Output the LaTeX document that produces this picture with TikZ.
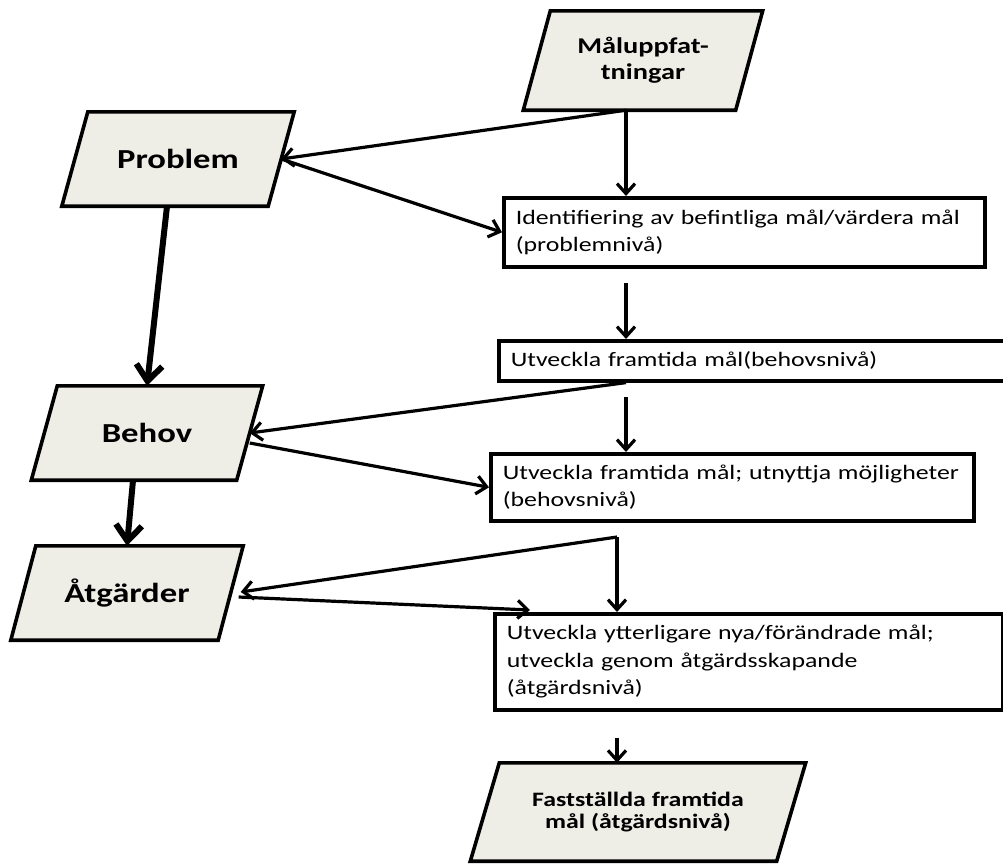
\documentclass[tikz,border=0pt]{standalone}
\usepackage{fontspec}
\setmainfont{Carlito}[FakeStretch=1.26]
\usetikzlibrary{positioning, backgrounds, arrows.meta}
\definecolor{boxfill}{RGB}{238,237,230}

\begin{document}
\begin{tikzpicture}
		[
		x=1pt, y=-1pt,
		lvl/.style ={rectangle, inner sep=0pt, align=center, font=\fontsize{27.5}{33}\selectfont\bfseries},
		lvlframe/.style ={draw=black, line width=3.6pt, line join=miter, fill=boxfill},
		goal/.style ={rectangle, draw=black, line width=3.6pt, fill=white, anchor=north west, align=left, inner xsep=12pt, inner ysep=0pt, font=\fontsize{20.5}{27.5}\selectfont},
		arr/.style ={-{Straight Barb[length=10pt, width=18pt]}, line width=3.2pt},
		thickarr/.style ={-{Straight Barb[length=16pt, width=26pt]}, line width=6pt}
		]
		\useasboundingbox (0,0) rectangle (1003,863);
		% left column
		\node[lvl, minimum width=206pt, minimum height=94pt] (prob) at (178,159) {Problem};
		\node[lvl, minimum width=205pt, minimum height=94pt] (behov) at (147,433) {Behov};
		\node[lvl, minimum width=207pt, minimum height=94pt] (atg) at (127,593) {Åtgärder};
		% right column
		\node[lvl, minimum width=212pt, minimum height=99pt, font=\fontsize{22.5}{26}\selectfont\bfseries] (mal) at (643,60.5) {Måluppfat-\\tningar};
		\node[goal, text width=457pt, minimum height=69pt] (box1) at (502,196) {Identifiering av befintliga mål/värdera mål\\(problemnivå)};
		\node[goal, text width=489pt, minimum height=40pt] (box2) at (497,339) {Utveckla framtida mål(behovsnivå)};
		\node[goal, text width=459pt, minimum height=67pt] (box3) at (489,452) {Utveckla framtida mål; utnyttja möjligheter\\(behovsnivå)};
		\node[goal, text width=484pt, minimum height=96pt] (box4) at (493,612) {Utveckla ytterligare nya/förändrade mål;\\utveckla genom åtgärdsskapande\\(åtgärdsnivå)};
		\node[lvl, minimum width=306pt, minimum height=98pt, font=\fontsize{20.5}{22}\selectfont\bfseries] (fast) at (638,812) {Fastställda framtida\\mål (åtgärdsnivå)};
		% slanted frames behind the level nodes
		\begin{scope}[on background layer]
			\foreach \n/\s in {prob/13, behov/13, atg/12.5, mal/13.5, fast/14.5}
				\draw[lvlframe] ([xshift=\s pt]\n.north west) -- ([xshift=\s pt]\n.north east) -- ([xshift=-\s pt]\n.south east) -- ([xshift=-\s pt]\n.south west) -- cycle;
		\end{scope}
		% free ends
		\coordinate (k1) at (626,283);
		\coordinate (k2) at (626,397);
		\coordinate (k3) at (617,537);
		\coordinate (k4) at (530,610);
		\coordinate (k5) at (617,738);
		% connectors
		\draw[arr] ([xshift=-17pt]mal.south) -- ([xshift=-17pt]mal.south |- box1.north);
		\draw[arr] ([xshift=-17pt]mal.south) -- (prob.east);
		\draw[arr] (prob.east) -- (box1.west);
		\draw[thickarr] ([xshift=-11pt]prob.south) -- (behov.north);
		\draw[arr] (k1) -- (k1 |- box2.north);
		\draw[arr] (k1 |- box2.south) -- (behov.east);
		\draw[arr] (k2) -- (k2 |- box3.north);
		\draw[arr] ([yshift=-10pt]behov.east) -- (box3.west);
		\draw[thickarr] ([xshift=-14pt]behov.south) -- (atg.north);
		\draw[arr] (k3) -- (k3 |- box4.north);
		\draw[arr] (k3) -- ([xshift=10pt, yshift=1pt]atg.east);
		\draw[arr] ([xshift=8pt, yshift=-4pt]atg.east) -- (k4);
		\draw[arr] (k5) -- (k5 |- fast.north);
	\end{tikzpicture}
\end{document}
